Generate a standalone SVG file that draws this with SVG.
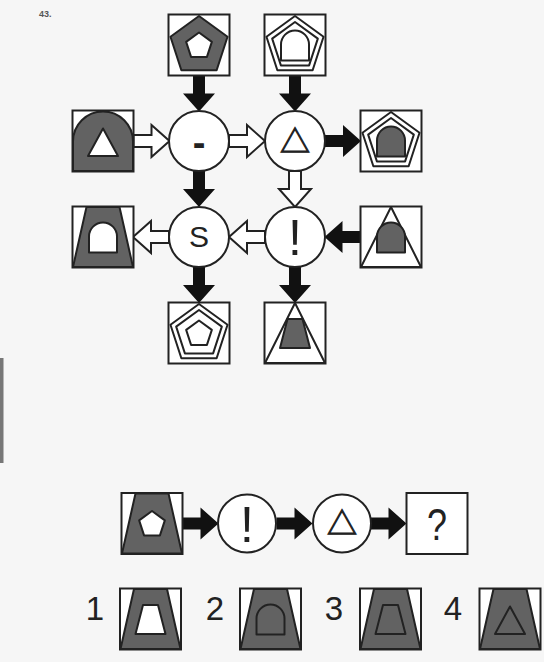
<svg xmlns="http://www.w3.org/2000/svg" xmlns:xlink="http://www.w3.org/1999/xlink" width="544" height="662" viewBox="0 0 544 662">
<style>
.bg{fill:#f6f6f6}
.box{fill:#fff;stroke:#222;stroke-width:2}
.g{fill:#626262;stroke:#222;stroke-width:2;stroke-linejoin:round}
.w{fill:#fff;stroke:#222;stroke-width:2;stroke-linejoin:round}
.n{fill:none;stroke:#222;stroke-width:2;stroke-linejoin:round}
.circ{fill:#fff;stroke:#222;stroke-width:2}
.ab{fill:#111}
.aw{fill:#fff;stroke:#222;stroke-width:2;stroke-linejoin:miter}
.t{font-family:"Liberation Sans",Arial,sans-serif;fill:#222;text-anchor:middle}
.sym{font-family:"Noto Sans CJK JP","DejaVu Sans",sans-serif;fill:#222;stroke:#222;stroke-width:1;text-anchor:middle}
</style>
<defs>
<rect id="frame" x="0" y="0" width="61" height="61"/>
<path id="pent-big" d="M30.5,1.5 L59.03,22.23 L48.13,55.77 L12.87,55.77 L1.97,22.23 Z"/>
<path id="pent-mid" d="M30.5,7.5 L53.33,24.08 L44.61,50.92 L16.39,50.92 L7.67,24.08 Z"/>
<path id="pent-small" d="M30.5,18 L43.34,27.33 L38.44,42.42 L22.56,42.42 L17.66,27.33 Z"/>
<path id="arch" d="M16.5,46 V30 A14,14 0 0 1 44.5,30 V46 Z"/>
<path id="arch-big" d="M0.5,60.5 V31 A30,30 0 0 1 60.5,31 V60.5 Z"/>
<path id="tri-small" d="M30.5,18 L45.5,45.5 L15.5,45.5 Z"/>
<path id="tri-big" d="M30.5,0.5 L60.5,60.5 L0.5,60.5 Z"/>
<path id="trap-big" d="M14,0.5 H47 L60.5,60.5 H0.5 Z"/>
<path id="trap-small" d="M23,16.5 H38 L45.5,45.5 H15.5 Z"/>
<path id="arrow" d="M0,-6 H18 V-16 L36,0 L18,16 V6 H0 Z"/>
</defs>
<rect class="bg" x="0" y="0" width="544" height="662"/>
<rect x="0" y="358" width="3.5" height="105" fill="#777"/>
<text x="39" y="17" font-family="Liberation Sans,Arial,sans-serif" font-size="9" font-weight="bold" fill="#555">43.</text>

<g id="connectors">
<use xlink:href="#arrow" class="aw" transform="translate(133.5,141)"/>
<use xlink:href="#arrow" class="aw" transform="translate(229,141)"/>
<use xlink:href="#arrow" class="ab" transform="translate(325,141)"/>
<use xlink:href="#arrow" class="ab" transform="translate(360.5,237) rotate(180)"/>
<use xlink:href="#arrow" class="aw" transform="translate(265,237) rotate(180)"/>
<use xlink:href="#arrow" class="aw" transform="translate(169,237) rotate(180)"/>
<use xlink:href="#arrow" class="ab" transform="translate(199,75.5) rotate(90)"/>
<use xlink:href="#arrow" class="ab" transform="translate(295,75.5) rotate(90)"/>
<use xlink:href="#arrow" class="ab" transform="translate(199,171) rotate(90)"/>
<use xlink:href="#arrow" class="aw" transform="translate(295,171) rotate(90)"/>
<use xlink:href="#arrow" class="ab" transform="translate(199,267) rotate(90)"/>
<use xlink:href="#arrow" class="ab" transform="translate(295,267) rotate(90)"/>
<use xlink:href="#arrow" class="ab" transform="translate(182.5,523.5)"/>
<use xlink:href="#arrow" class="ab" transform="translate(276.5,523.5)"/>
<use xlink:href="#arrow" class="ab" transform="translate(370.5,523.5)"/>
</g>

<g id="box-top1" transform="translate(168.5,14.5)">
<use xlink:href="#frame" class="box"/>
<use xlink:href="#pent-big" class="g"/>
<use xlink:href="#pent-small" class="w"/>
</g>
<g id="box-top2" transform="translate(264.5,14.5)">
<use xlink:href="#frame" class="box"/>
<use xlink:href="#pent-big" class="w"/>
<use xlink:href="#pent-mid" class="n"/>
<use xlink:href="#arch" class="w"/>
</g>
<g id="box-left1" transform="translate(72.5,110.5)">
<use xlink:href="#frame" class="box"/>
<use xlink:href="#arch-big" class="g"/>
<use xlink:href="#tri-small" class="w"/>
</g>
<g id="box-right1" transform="translate(360.5,110.5)">
<use xlink:href="#frame" class="box"/>
<use xlink:href="#pent-big" class="w"/>
<use xlink:href="#pent-mid" class="n"/>
<use xlink:href="#arch" class="g"/>
</g>
<g id="box-left2" transform="translate(72.5,206.5)">
<use xlink:href="#frame" class="box"/>
<use xlink:href="#trap-big" class="g"/>
<use xlink:href="#arch" class="w"/>
</g>
<g id="box-right2" transform="translate(360.5,206.5)">
<use xlink:href="#frame" class="box"/>
<use xlink:href="#tri-big" class="w"/>
<use xlink:href="#arch" class="g"/>
</g>
<g id="box-bottom1" transform="translate(168.5,302.5)">
<use xlink:href="#frame" class="box"/>
<use xlink:href="#pent-big" class="w"/>
<use xlink:href="#pent-mid" class="n"/>
<use xlink:href="#pent-small" class="w"/>
</g>
<g id="box-bottom2" transform="translate(264.5,302.5)">
<use xlink:href="#frame" class="box"/>
<use xlink:href="#tri-big" class="w"/>
<use xlink:href="#trap-small" class="g"/>
</g>

<g id="op-minus">
<circle class="circ" cx="199" cy="141" r="30"/>
<text class="t" x="199" y="155.5" font-size="38" font-weight="bold">-</text>
</g>
<g id="op-triangle">
<circle class="circ" cx="295" cy="141" r="30"/>
<text class="sym" x="295" y="151.5" font-size="30">△</text>
</g>
<g id="op-s">
<circle class="circ" cx="199" cy="237" r="30"/>
<text class="t" x="199" y="246.7" font-size="30">S</text>
</g>
<g id="op-excl">
<circle class="circ" cx="295" cy="237" r="30"/>
<text class="t" x="295" y="255" font-size="50">!</text>
</g>

<g id="q-start" transform="translate(121.5,493)">
<use xlink:href="#frame" class="box"/>
<use xlink:href="#trap-big" class="g"/>
<use xlink:href="#pent-small" class="w"/>
</g>
<g id="q-excl">
<circle class="circ" cx="247" cy="523.5" r="29"/>
<text class="t" x="247" y="541.5" font-size="50">!</text>
</g>
<g id="q-triangle">
<circle class="circ" cx="342" cy="523.5" r="29"/>
<text class="sym" x="342" y="534" font-size="30">△</text>
</g>
<g id="q-answer" transform="translate(406.5,493)">
<use xlink:href="#frame" class="box"/>
<text class="t" x="30.5" y="47" font-size="44" textLength="20" lengthAdjust="spacingAndGlyphs">?</text>
</g>

<g id="option1">
<text class="t" x="95" y="620" font-size="33">1</text>
<g transform="translate(120,588.5)">
<use xlink:href="#frame" class="box"/>
<use xlink:href="#trap-big" class="g"/>
<use xlink:href="#trap-small" class="w"/>
</g>
</g>
<g id="option2">
<text class="t" x="215" y="620" font-size="33">2</text>
<g transform="translate(240,588.5)">
<use xlink:href="#frame" class="box"/>
<use xlink:href="#trap-big" class="g"/>
<use xlink:href="#arch" class="g"/>
</g>
</g>
<g id="option3">
<text class="t" x="334" y="620" font-size="33">3</text>
<g transform="translate(360,588.5)">
<use xlink:href="#frame" class="box"/>
<use xlink:href="#trap-big" class="g"/>
<use xlink:href="#trap-small" class="g"/>
</g>
</g>
<g id="option4">
<text class="t" x="453" y="620" font-size="33">4</text>
<g transform="translate(479.5,588.5)">
<use xlink:href="#frame" class="box"/>
<use xlink:href="#trap-big" class="g"/>
<use xlink:href="#tri-small" class="g"/>
</g>
</g>
</svg>
